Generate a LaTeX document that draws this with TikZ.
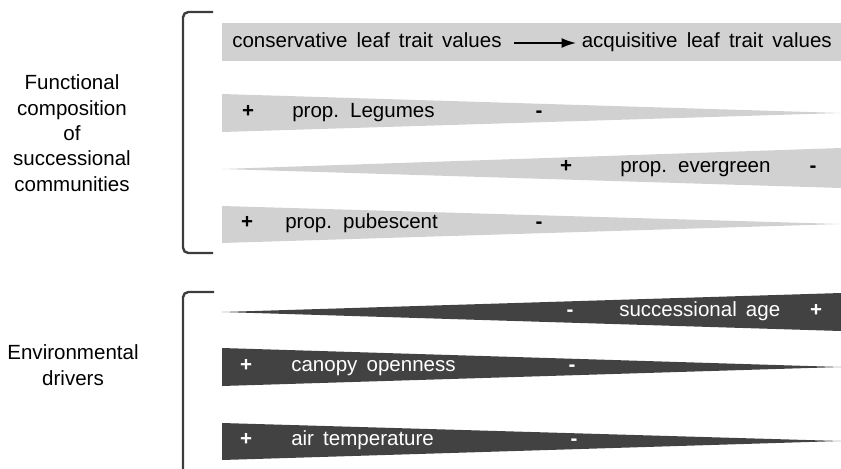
\documentclass[tikz,border=0pt]{standalone}
\usepackage{fontspec}
\setmainfont{Liberation Sans}[WordSpace=1.6]
\usetikzlibrary{arrows.meta}
\definecolor{barlight}{HTML}{D1D1D1}
\definecolor{bardark}{HTML}{424242}
\definecolor{bracegray}{HTML}{3C3C3C}

\begin{document}
\begin{tikzpicture}[
		x=0.75pt, y=-0.75pt,
		fnt/.style={font=\fontsize{15.4}{19}\selectfont},
		lbl/.style={fnt, inner sep=0pt, text height=0.72em, text depth=0.1em},
		txt/.style={lbl, anchor=west},
		sgn/.style={lbl, font=\fontsize{15.4}{19}\selectfont\bfseries},
		inv/.style={text=white},
		group/.style={fnt, inner sep=0pt, align=center},
		brace/.style={draw=bracegray, line width=1.8pt, rounded corners=4pt},
	]
		\useasboundingbox (0,0) rectangle (841,468);

		% bars
		\fill[barlight] (222,23) rectangle (841,61);
		\fill[barlight] (222,94) -- (841,113) -- (222,132) -- cycle;
		\fill[barlight] (222,169) -- (841,148) -- (841,188) -- cycle;
		\fill[barlight] (222,206) -- (841,224) -- (222,243) -- cycle;
		\fill[bardark] (222,312) -- (841,293) -- (841,331) -- cycle;
		\fill[bardark] (222,348) -- (841,367) -- (222,386) -- cycle;
		\fill[bardark] (222,423) -- (841,441) -- (222,460) -- cycle;

		% brackets
		\draw[brace] (213,12) -- (183,12) -- (183,253) -- (213,253);
		\draw[brace] (214,292) -- (183,292) -- (183,470);

		\node[group] (func) at (72,133) {Functional\\composition\\of\\successional\\communities};
		\node[group] (env) at (73,365) {Environmental\\drivers};

		\node[txt] (cons) at (232,43) {conservative leaf trait values};
		\node[lbl, anchor=east] (acq) at (832,43) {acquisitive leaf trait values};
		\draw[line width=1.5pt, -{Latex[length=11pt, width=7.5pt]}, shorten <=9pt, shorten >=4pt] (cons.east) -- (acq.west);

		\node[sgn] (legP) at (248,113) {+};
		\node[txt] (leg) at (292,113) {prop. Legumes};
		\node[sgn] (legM) at (539,113) {-};

		\node[sgn] (evgP) at (566,168) {+};
		\node[txt] (evg) at (620,168) {prop. evergreen};
		\node[sgn] (evgM) at (813,168) {-};

		\node[sgn] (pubP) at (247,224) {+};
		\node[txt] (pub) at (285,224) {prop. pubescent};
		\node[sgn] (pubM) at (539,224) {-};

		\node[sgn, inv] (ageM) at (570,312) {-};
		\node[txt, inv] (age) at (619,312) {successional age};
		\node[sgn, inv] (ageP) at (816,312) {+};

		\node[sgn, inv] (canP) at (246,367) {+};
		\node[txt, inv] (can) at (291,367) {canopy openness};
		\node[sgn, inv] (canM) at (572,367) {-};

		\node[sgn, inv] (airP) at (246,441) {+};
		\node[txt, inv] (air) at (291,441) {air temperature};
		\node[sgn, inv] (airM) at (574,441) {-};
	\end{tikzpicture}
\end{document}
